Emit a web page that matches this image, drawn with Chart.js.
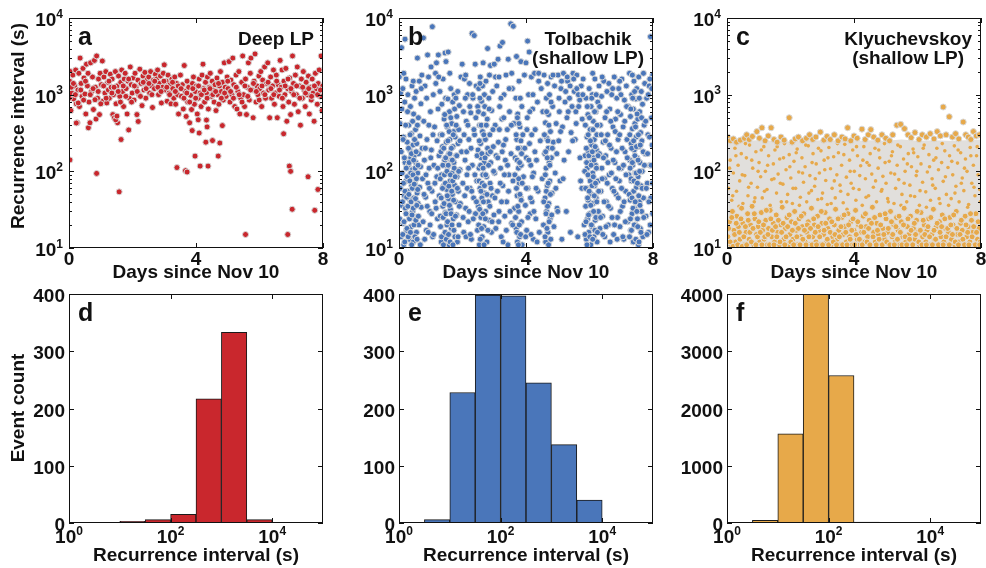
<!DOCTYPE html>
<html>
<head>
<meta charset="utf-8">
<script src="https://cdn.jsdelivr.net/npm/chart.js@4.4.0/dist/chart.umd.min.js"></script>
<style>
  html, body { margin: 0; padding: 0; background: #fff; }
  #fig { position: relative; width: 986px; height: 568px; }
  #fig canvas { position: absolute; left: 0; top: 0; }
</style>
</head>
<body>
<div id="fig">
  <canvas id="pa" width="986" height="568"></canvas>
  <canvas id="pb" width="986" height="568"></canvas>
  <canvas id="pc" width="986" height="568"></canvas>
  <canvas id="pd" width="986" height="568"></canvas>
  <canvas id="pe" width="986" height="568"></canvas>
  <canvas id="pf" width="986" height="568"></canvas>
</div>
<script>
// ---- data: [day since Nov 10, recurrence interval (s)] ----

const deepLP = [
  [0.02,1500],[0.04,2000],[0.06,620],[0.09,1050],[0.12,1800],[0.15,880],[0.18,1300],[0.21,2100],[0.23,760],
  [0.26,430],[0.28,1150],[0.31,1900],[0.33,700],[0.35,3000],[0.38,1400],[0.41,950],[0.44,2200],[0.47,1650],
  [0.5,1020],[0.53,560],[0.55,2500],[0.58,1300],[0.61,370],[0.63,800],[0.66,430],[0.68,2600],[0.71,1100],[0.74,1700],
  [0.77,640],[0.8,2800],[0.83,1250],[0.85,480],[0.87,3200],[0.9,900],[0.93,1600],[0.96,550],[0.98,1900],
  [1.02,1350],[1.05,2750],[1.07,820],[1.1,1700],[1.13,1050],[1.16,2000],[1.19,780],[1.22,1450],[1.24,1150],
  [1.27,900],[1.3,1850],[1.33,1250],[1.36,1600],[1.38,550],[1.4,1000],[1.43,500],[1.46,2000],[1.48,760],
  [1.51,1300],[1.53,430],[1.56,1750],[1.6,950],[1.63,1450],[1.66,2100],[1.69,1100],[1.72,700],[1.74,1600],
  [1.77,1900],[1.8,1200],[1.83,560],[1.86,1500],[1.9,900],[1.93,2300],[1.96,1350],[1.99,1050],
  [2.02,1650],[2.05,850],[2.08,1900],[2.11,1250],[2.14,550],[2.17,1550],[2.2,1000],[2.23,2150],
  [2.27,1400],[2.3,720],[2.33,1750],[2.36,1150],[2.39,1950],[2.42,900],[2.45,1550],[2.48,1300],
  [2.51,1700],[2.54,1050],[2.57,2000],[2.6,1300],[2.63,680],[2.66,1550],[2.69,1200],[2.72,1850],
  [2.76,1600],[2.79,2100],[2.82,1000],[2.85,1400],[2.88,1750],[2.91,780],[2.94,1250],[2.97,1900],
  [3.0,2450],[3.03,1150],[3.06,1500],[3.09,820],[3.12,1800],[3.15,1050],[3.18,1350],[3.21,760],[3.24,1600],
  [3.27,1200],[3.3,900],[3.33,1700],[3.36,750],[3.39,1400],[3.42,1000],[3.45,560],[3.48,1250],
  [3.51,1800],[3.54,950],[3.57,1350],[3.6,650],[3.63,2400],[3.66,1100],[3.69,520],[3.72,1500],[3.74,800],
  [3.77,1250],[3.8,430],[3.83,980],[3.86,640],[3.89,1400],[3.92,1700],[3.95,750],[3.98,1100],
  [4.01,1300],[4.04,560],[4.07,900],[4.1,1600],[4.13,1050],[4.16,700],[4.19,1800],[4.22,2500],[4.24,1200],
  [4.27,800],[4.3,1450],[4.33,1050],[4.36,1700],[4.39,650],[4.42,1250],[4.45,1900],[4.48,950],
  [4.51,1500],[4.54,1150],[4.57,800],[4.6,1350],[4.63,620],[4.66,1650],[4.69,1000],[4.72,750],[4.74,1300],
  [4.77,2000],[4.8,1100],[4.83,1450],[4.86,850],[4.89,2600],[4.92,1250],[4.95,950],[4.98,1700],
  [5.01,1200],[5.04,2700],[5.07,800],[5.1,1550],[5.13,1000],[5.16,3000],[5.19,1350],[5.22,700],
  [5.26,1800],[5.29,650],[5.32,1100],[5.35,2000],[5.38,560],[5.41,900],[5.44,1450],[5.47,3200],
  [5.5,1000],[5.53,700],[5.56,1600],[5.59,550],[5.62,1250],[5.65,2600],[5.68,850],[5.71,1900],[5.73,3000],
  [5.77,1150],[5.8,500],[5.83,1500],[5.86,3400],[5.89,800],[5.92,1300],[5.95,1000],[5.98,1750],
  [6.01,1200],[6.04,2000],[6.07,700],[6.1,1550],[6.13,1050],[6.16,2300],[6.19,900],[6.22,1400],
  [6.26,2600],[6.29,1150],[6.32,500],[6.35,1700],[6.38,900],[6.41,1300],[6.44,2100],[6.47,750],
  [6.5,1050],[6.53,1800],[6.56,500],[6.59,1350],[6.62,950],[6.65,2800],[6.68,1250],[6.71,2100],[6.74,700],
  [6.77,1500],[6.8,1000],[6.83,2200],[6.86,450],[6.89,1200],[6.92,800],[6.95,1650],[6.98,550],
  [7.01,1100],[7.04,3200],[7.07,1400],[7.1,750],[7.13,1800],[7.16,1000],[7.19,2300],[7.22,600],
  [7.26,1300],[7.29,400],[7.32,1600],[7.35,900],[7.38,2000],[7.41,1150],[7.44,700],[7.47,1450],
  [7.51,1000],[7.54,1750],[7.57,560],[7.6,1250],[7.63,850],[7.66,1600],[7.69,1050],[7.72,450],
  [7.76,1900],[7.79,1200],[7.82,750],[7.85,1400],[7.88,2100],[7.91,950],[7.94,3200],[7.97,620],[7.99,1300],
  [0.01,900],[0.07,1250],[0.14,1400],[0.2,1000],[0.29,780],[0.37,1150],[0.46,850],[0.52,1500],[0.6,1900],[0.67,1000],
  [0.76,1200],[0.82,860],[0.92,1100],[1.0,760],[1.09,1300],[1.17,900],[1.26,1500],[1.35,1050],[1.42,1250],[1.55,1100],
  [1.62,800],[1.71,1300],[1.79,950],[1.88,1600],[1.97,800],[2.06,1300],[2.15,1100],[2.25,950],[2.34,1450],[2.43,1200],
  [2.52,1400],[2.61,1000],[2.7,1500],[2.8,1250],[2.9,1100],[2.99,1500],[3.08,1250],[3.17,1000],[3.26,1450],[3.35,1100],
  [3.44,1300],[3.53,1200],[3.62,900],[3.71,1050],[3.8,800],[3.9,1200],[3.99,900],[4.08,1300],[4.17,1000],[4.26,1150],
  [4.35,900],[4.44,1200],[4.53,1000],[4.62,1100],[4.71,1400],[4.8,900],[4.9,1050],[5.0,1500],[5.09,1100],[5.18,900],
  [5.27,1250],[5.36,1000],[5.45,800],[5.54,1300],[5.63,950],[5.72,1150],[5.81,1400],[5.9,1100],[5.99,850],[6.08,1300],
  [6.17,1000],[6.27,1450],[6.36,1200],[6.45,1000],[6.54,1500],[6.63,1150],[6.72,900],[6.81,1300],[6.9,1600],[6.99,1200],
  [7.08,1000],[7.17,1300],[7.27,900],[7.36,1250],[7.45,1050],[7.55,1200],[7.64,950],[7.73,1300],[7.83,1000],[7.92,1150],
  // short intervals
  [0.03,141],[0.87,94],[1.58,54],[1.64,260],[1.47,470],[1.51,525],[1.88,347],[2.18,447],[3.4,112],
  [3.67,102],[3.72,98],[3.97,158],[4.13,117],[4.38,117],[4.7,158],[4.31,240],[4.52,252],[4.75,234],
  [4.83,395],[4.1,316],[3.88,340],[4.07,470],[4.33,466],[4.35,380],[5.56,15],[6.89,15],[7.03,32],
  [7.74,31],[7.84,58],[7.53,85],[6.94,117],[6.98,100],[6.76,309],[0.23,427]
];

const tolbachik = [
  [0.01,1700],[0.02,24],[0.03,420],[0.04,60],[0.05,1050],[0.06,14],[0.07,180],[0.08,36],[0.09,650],[0.1,95],
  [0.12,1200],[0.13,21],[0.14,280],[0.15,11],[0.17,48],[0.18,800],[0.19,130],[0.2,33],[0.22,1600],[0.23,75],[0.24,17],
  [0.26,240],[0.27,55],[0.28,1000],[0.29,120],[0.3,27],[0.31,400],[0.32,13],[0.33,85],[0.34,190],[0.35,42],[0.36,700],
  [0.37,150],[0.38,19],[0.39,310],[0.4,65],[0.41,1300],[0.42,105],[0.43,30],[0.44,220],[0.45,12],[0.46,560],[0.47,45],
  [0.48,160],[0.49,900],
  [0.5,70],[0.51,25],[0.52,350],[0.53,130],[0.54,1100],[0.55,16],[0.56,230],[0.57,52],[0.58,3000],[0.59,95],[0.6,38],
  [0.61,500],[0.62,170],[0.63,20],[0.64,1500],[0.65,62],[0.66,290],[0.67,11],[0.68,115],[0.69,760],[0.7,34],[0.72,1800],
  [0.73,200],[0.74,80],
  [0.76,22],[0.77,5500],[0.78,450],[0.8,140],[0.82,1300],[0.84,46],[0.86,17],[0.87,900],[0.88,260],[0.9,3300],[0.91,70],
  [0.93,1700],[0.95,110],[0.97,30],[0.99,600],
  [1.01,2300],[1.02,190],[1.04,55],[1.05,7700],[1.06,14],[1.08,1000],[1.1,120],[1.12,380],[1.14,40],[1.16,1400],
  [1.18,2600],[1.19,85],[1.21,24],[1.23,650],[1.24,3300],
  [1.26,160],[1.27,48],[1.29,1100],[1.3,26],[1.31,300],[1.33,12],[1.34,90],[1.35,750],[1.37,210],[1.38,35],[1.39,1600],
  [1.41,65],[1.42,480],[1.43,15],[1.44,140],[1.45,3500],[1.46,29],[1.47,900],[1.48,2700],[1.49,240],
  [1.5,58],[1.51,20],[1.52,380],[1.53,115],[1.54,880],[1.55,3600],[1.56,44],[1.57,170],[1.58,11],[1.59,600],[1.6,260],
  [1.61,75],[1.62,32],[1.63,1200],[1.64,140],[1.65,18],[1.66,420],[1.67,95],[1.68,50],[1.69,800],[1.7,210],[1.71,24],
  [1.72,330],[1.73,130],[1.74,1000],
  [1.75,66],[1.76,14],[1.77,280],[1.78,40],[1.79,900],[1.8,160],[1.81,27],[1.82,520],[1.83,85],[1.84,12],[1.85,1100],
  [1.86,230],[1.87,55],[1.88,350],[1.89,20],[1.9,720],[1.92,105],[1.93,38],[1.95,1700],[1.97,180],[1.99,2500],
  [2.01,70],[2.03,600],[2.04,16],[2.06,1600],[2.08,140],[2.1,33],[2.12,450],[2.14,90],[2.16,1000],[2.18,22],[2.2,260],
  [2.22,1400],[2.24,60],
  [2.26,580],[2.28,13],[2.3,6300],[2.31,120],[2.33,900],[2.35,45],[2.37,5900],[2.38,300],[2.4,2500],[2.41,28],[2.43,1300],
  [2.45,75],[2.47,17],[2.48,700],[2.49,190],
  [2.5,35],[2.51,1200],[2.52,110],[2.53,11],[2.54,400],[2.55,60],[2.56,1700],[2.57,230],[2.58,25],[2.59,150],[2.6,820],
  [2.61,45],[2.62,14],[2.63,330],[2.64,90],[2.65,2600],[2.66,560],[2.67,19],[2.68,130],[2.69,1000],[2.7,52],[2.72,260],
  [2.73,30],[2.74,1500],
  [2.76,85],[2.77,12],[2.78,480],[2.79,4000],[2.8,170],[2.81,40],[2.83,900],[2.84,23],[2.86,300],[2.87,70],[2.88,2400],
  [2.89,130],[2.91,16],[2.92,620],[2.94,48],[2.95,1100],[2.97,210],[2.99,27],
  [3.0,2500],[3.01,95],[3.03,400],[3.05,18],[3.06,160],[3.08,1300],[3.1,55],[3.12,2900],[3.13,240],[3.15,30],[3.17,700],
  [3.18,4300],[3.2,110],[3.22,14],[3.24,480],
  [3.26,4800],[3.27,65],[3.29,220],[3.31,1000],[3.33,26],[3.35,140],[3.37,1800],[3.39,40],[3.41,350],[3.43,11],
  [3.44,2900],[3.46,90],[3.48,600],
  [3.52,8400],[3.53,170],[3.55,21],[3.57,1200],[3.59,75],[3.6,7800],[3.62,420],[3.64,33],[3.66,150],[3.68,900],[3.69,18],
  [3.7,3150],[3.71,260],[3.72,48],[3.73,12],[3.74,560],
  [3.76,110],[3.77,30],[3.78,1500],[3.79,70],[3.8,14],[3.81,380],[3.82,200],[3.83,45],[3.84,2700],[3.85,120],[3.86,22],
  [3.87,700],[3.88,11],[3.9,300],[3.92,85],[3.95,1800],[3.98,36],
  [4.0,2600],[4.01,150],[4.02,17],[4.04,500],[4.05,5000],[4.06,60],[4.08,1000],[4.1,3600],[4.11,230],[4.13,28],[4.15,120],
  [4.17,1700],[4.19,40],[4.21,650],[4.23,13],[4.24,95],
  [4.27,1900],[4.29,350],[4.31,24],[4.33,140],[4.36,800],[4.38,55],[4.4,1900],[4.42,16],[4.45,250],[4.48,1200],
  [4.51,80],[4.53,600],[4.55,20],[4.57,1800],[4.59,170],[4.6,45],[4.61,430],[4.62,12],[4.63,110],[4.64,900],[4.65,30],
  [4.66,270],[4.67,65],[4.68,1400],[4.69,16],[4.7,200],[4.71,550],[4.72,38],[4.73,130],[4.74,1000],
  [4.75,75],[4.76,24],[4.77,330],[4.78,13],[4.79,1700],[4.8,150],[4.82,52],[4.84,700],[4.86,240],[4.88,19],[4.9,1300],
  [4.92,95],[4.95,420],[4.98,33],
  [5.01,1800],[5.03,250],[5.05,600],[5.07,75],[5.1,1200],[5.13,13],[5.15,380],[5.18,1900],[5.2,140],[5.23,800],
  [5.27,30],[5.29,500],[5.31,1500],[5.34,180],[5.37,900],[5.4,16],[5.42,320],[5.45,700],[5.48,1900],
  [5.52,1100],[5.55,260],[5.57,600],[5.6,1800],[5.63,14],[5.66,700],[5.69,850],[5.72,75],[5.74,1300],
  [5.77,480],[5.8,1600],[5.83,20],[5.86,160],[5.88,35],[5.89,900],[5.9,13],[5.91,60],[5.92,280],[5.93,110],[5.94,24],
  [5.95,550],[5.96,42],[5.97,180],[5.98,16],[5.99,1200],
  [6.0,85],[6.01,28],[6.02,350],[6.03,130],[6.04,11],[6.05,700],[6.06,50],[6.07,220],[6.08,19],[6.09,1000],[6.1,95],
  [6.11,38],[6.12,450],[6.13,150],[6.14,14],[6.15,260],[6.16,65],[6.17,1600],[6.18,23],[6.19,120],[6.2,600],[6.21,45],
  [6.22,190],[6.23,300],[6.24,12],
  [6.26,800],[6.27,75],[6.28,30],[6.3,1300],[6.31,170],[6.33,18],[6.34,400],[6.36,55],[6.38,950],[6.39,110],[6.41,26],
  [6.43,240],[6.45,1500],[6.47,80],[6.48,14],[6.49,500],
  [6.51,160],[6.53,40],[6.55,1100],[6.57,300],[6.59,20],[6.61,1400],[6.62,90],[6.64,650],[6.66,33],[6.68,200],[6.7,1000],
  [6.72,60],[6.74,380],
  [6.76,15],[6.78,1700],[6.8,130],[6.82,480],[6.84,50],[6.86,900],[6.88,25],[6.9,260],[6.92,1200],[6.94,75],[6.96,19],
  [6.98,550],
  [7.0,110],[7.02,1600],[7.04,35],[7.06,380],[7.08,13],[7.1,850],[7.12,180],[7.14,55],[7.16,1300],[7.18,260],[7.2,22],
  [7.22,700],[7.24,90],
  [7.26,1900],[7.27,140],[7.28,42],[7.29,520],[7.3,17],[7.31,230],[7.32,75],[7.33,1000],[7.34,28],[7.35,360],[7.36,120],
  [7.37,12],[7.38,650],[7.39,55],[7.4,1500],[7.41,190],[7.42,33],[7.43,420],[7.44,95],[7.45,20],[7.46,880],[7.47,280],
  [7.48,62],[7.49,1200],
  [7.5,150],[7.51,24],[7.52,480],[7.53,85],[7.54,11],[7.55,1700],[7.56,210],[7.57,40],[7.58,600],[7.59,130],[7.6,18],
  [7.61,320],[7.62,65],[7.63,1100],[7.64,30],[7.65,250],[7.66,100],[7.67,750],[7.68,14],[7.7,45],[7.72,400],[7.74,1400],
  [7.76,170],[7.78,26],[7.8,900],[7.82,70],[7.84,300],[7.86,16],[7.88,1300],[7.9,120],[7.92,5700],[7.93,45],[7.95,500],
  [7.97,220],[7.99,1800],
  [0.08,4100],[0.19,5300],
  // swarm bursts
  [0.11,40],[0.12,15],[0.13,260],[0.14,70],[0.16,22],[0.17,150],[0.18,12],[0.19,55],[0.21,400],[0.22,28],[0.23,110],
  [0.24,46],[0.25,18],[0.26,85],[0.27,600],[0.28,35],[0.29,14],[0.3,200],[0.31,50],[0.32,130],[0.33,24],[0.34,75],
  [0.35,300],[0.36,16],[0.37,95],[0.38,40],[0.39,170],[0.4,11],[0.41,27],[0.42,60],[0.43,450],[0.44,90],[0.45,33],
  [0.46,140],[0.47,20],[0.48,68],[0.49,260],[0.5,14],[0.51,110],[0.52,44],[0.53,23],[0.54,180],[0.55,80],[0.56,36],
  [0.57,13],[0.58,400],[0.59,58],[0.6,120],[0.61,26],
  [0.79,50],[0.81,13],[0.83,200],[0.85,90],[0.89,35],[0.92,16],[0.94,400],[0.96,60],[0.98,20],[1.0,150],[1.03,28],
  [1.07,300],[1.09,15],[1.13,70],[1.15,1900],[1.17,33],[1.2,250],[1.22,110],
  [1.3,80],[1.31,19],[1.32,180],[1.33,45],[1.34,14],[1.36,300],[1.37,60],[1.38,120],[1.39,25],[1.4,11],[1.41,200],
  [1.42,38],[1.43,90],[1.44,550],[1.45,16],[1.46,70],[1.47,150],[1.48,28],[1.49,13],[1.5,400],[1.51,100],[1.52,48],
  [1.53,22],[1.54,250],[1.55,120],[1.56,15],[1.57,64],[1.58,330],[1.59,36],[1.6,170],[1.61,12],[1.62,90],[1.63,500],
  [1.64,28],[1.65,200],[1.66,55],[1.67,20],[1.68,140],[1.69,75],[1.7,11],[1.71,300],[1.72,42],[1.73,17],[1.74,110],
  [1.75,650],[1.77,85],[1.78,26],[1.8,400],[1.82,160],[1.84,60],[1.86,14],[1.88,100],[1.9,35],[1.92,250],
  [2.02,25],[2.05,300],[2.07,48],[2.09,900],[2.11,14],[2.13,180],[2.15,60],[2.17,400],[2.19,110],[2.21,30],[2.23,700],
  [2.25,15],[2.27,200],[2.29,55],[2.32,1000],[2.34,24],[2.36,350],[2.39,90],[2.42,500],[2.44,40],[2.46,160],
  [2.5,600],[2.51,20],[2.52,75],[2.53,250],[2.54,32],[2.55,900],[2.56,13],[2.57,120],[2.58,55],[2.59,400],[2.6,18],
  [2.61,170],[2.62,70],[2.63,1300],[2.64,28],[2.65,110],[2.66,40],[2.67,300],[2.68,11],[2.69,65],[2.7,700],[2.71,150],
  [2.72,24],[2.73,90],[2.75,400],[2.77,50],[2.79,200],[2.8,17],[2.82,120],[2.84,650],[2.86,35],[2.88,180],[2.9,60],
  [2.93,22],[2.96,350],[2.98,100],[3.02,45],[3.04,1700],
  [3.11,150],[3.14,22],[3.16,350],[3.19,70],[3.21,900],[3.23,40],[3.25,180],[3.28,12],[3.3,500],[3.32,90],[3.36,260],
  [3.38,17],[3.42,120],[3.45,55],[3.47,1200],[3.5,30],[3.54,400],[3.58,20],
  [3.65,90],[3.67,25],[3.69,300],[3.7,60],[3.71,16],[3.72,140],[3.73,500],[3.74,35],[3.75,200],[3.76,11],[3.77,80],
  [3.78,420],[3.79,20],[3.8,130],[3.81,50],[3.82,900],[3.83,15],[3.84,250],[3.85,42],[3.86,170],[3.88,70],
  [3.96,200],[3.99,14],[4.01,60],[4.03,350],[4.06,25],[4.09,140],[4.12,600],[4.14,45],[4.16,15],[4.18,300],[4.2,85],
  [4.22,1000],[4.25,30],[4.28,180],[4.32,60],[4.35,12],
  [4.56,40],[4.58,300],[4.6,14],[4.61,90],[4.62,180],[4.63,28],[4.64,55],[4.65,600],[4.66,18],[4.67,150],[4.68,35],
  [4.69,250],[4.7,70],[4.71,11],[4.72,400],[4.73,22],[4.75,120],[4.77,50],[4.79,800],[4.81,27],[4.83,200],
  [4.94,60],[4.97,170],[5.0,30],[5.04,900],[5.09,330],[5.12,1500],[5.17,80],[5.25,1100],[5.33,600],[5.39,1300],
  [5.47,250],[5.5,1600],[5.58,420],[5.65,1000],[5.7,150],[5.76,60],[5.79,1000],
  [5.85,100],[5.86,15],[5.87,400],[5.88,60],[5.89,22],[5.9,200],[5.91,130],[5.92,11],[5.93,700],[5.94,45],[5.95,90],
  [5.96,300],[5.97,27],[5.98,160],[5.99,55],[6.0,500],[6.01,14],[6.02,75],[6.03,250],[6.04,36],[6.05,120],[6.06,20],
  [6.07,900],[6.08,65],[6.09,180],[6.1,13],[6.11,350],[6.12,85],[6.13,30],[6.14,140],[6.15,48],[6.16,600],[6.17,17],
  [6.18,210],[6.19,70],[6.2,25],[6.21,1000],[6.22,110],[6.23,40],[6.24,400],[6.25,16],[6.27,160],[6.29,55],[6.32,700],
  [6.35,25],[6.37,300],[6.4,80],[6.42,15],[6.44,150],[6.46,40],[6.5,250],[6.52,19],[6.54,600],[6.56,70],[6.58,130],
  [6.6,35],[6.63,220],[6.65,12],[6.67,450],[6.69,95],[6.71,25],[6.73,1200],[6.75,140],[6.77,55],[6.79,20],[6.81,330],
  [6.83,80],[6.85,180],[6.87,13],[6.89,600],[6.91,45],[6.93,110],[6.95,300],[6.97,30],[6.99,1000],[7.01,60],[7.03,200],
  [7.05,14],[7.07,120],[7.09,40],[7.11,450],[7.13,22],[7.15,90],[7.17,700],[7.19,150],
  [7.25,50],[7.26,14],[7.27,300],[7.28,110],[7.29,24],[7.3,650],[7.31,80],[7.32,17],[7.33,200],[7.34,45],[7.35,130],
  [7.36,900],[7.37,33],[7.38,12],[7.39,250],[7.4,75],[7.41,20],[7.42,1100],[7.43,160],[7.44,40],[7.45,380],[7.46,13],
  [7.47,95],[7.48,210],[7.49,30],[7.5,560],[7.51,70],[7.52,19],[7.53,140],[7.54,300],[7.55,48],[7.56,12],[7.57,900],
  [7.58,100],[7.59,36],[7.6,220],[7.62,16],[7.64,500],[7.66,60],[7.69,180],[7.71,25],[7.73,120],
  [7.77,450],[7.79,60],[7.81,15],[7.83,170],[7.85,1000],[7.87,40],[7.89,280],[7.91,20],[7.94,120],[7.96,1200],[7.98,70],
  [7.99,28],
  [0.15,1900],[0.45,1500],[0.7,1200],[1.25,1700],[1.6,1900],[2.1,1800],[2.55,1400],[2.85,1800],[3.15,1700],[3.55,1900],
  [4.4,1500],[4.85,1800],[5.3,1700],[5.6,1200],[6.1,1900],[6.4,1700],[6.95,1500],[7.35,1800],[7.7,1900],[7.9,1600]
];

// Klyuchevskoy: the cloud is saturated between 10 s and its upper edge
const kluCloudDays = [0, 0.5, 1, 1.5, 2, 2.5, 3, 3.5, 4, 4.5, 5, 5.5, 6, 6.5, 7, 7.5, 8];
const kluCloudTop = [265, 250, 255, 250, 245, 250, 255, 250, 250, 255, 250, 260, 250, 255, 250, 255, 260];

const kluInner = [
  [0.05,60],[0.1,140],[0.15,42],[0.2,95],[0.25,200],[0.3,55],[0.35,120],[0.4,75],[0.45,170],[0.5,38],[0.56,88],
  [0.61,150],[0.66,48],[0.71,220],[0.76,70],[0.81,110],[0.86,40],[0.91,180],[0.96,62],[1.01,130],[1.06,85],[1.11,45],
  [1.16,210],[1.21,100],[1.26,58],[1.31,160],[1.36,36],[1.41,78],[1.46,125],[1.51,190],[1.56,52],[1.61,92],[1.66,145],
  [1.71,40],[1.76,68],[1.81,230],[1.86,105],[1.91,50],[1.96,165],[2.01,82],[2.06,38],[2.11,135],[2.16,60],[2.21,195],
  [2.26,98],[2.31,46],[2.36,150],[2.41,72],[2.46,115],[2.51,40],[2.56,215],[2.61,88],[2.66,56],[2.71,170],[2.76,64],
  [2.81,125],[2.86,43],[2.91,95],[2.96,185],[3.01,52],[3.06,140],[3.11,76],[3.16,37],[3.21,205],[3.26,108],[3.31,60],
  [3.36,155],[3.41,45],[3.46,90],[3.51,175],[3.56,66],[3.61,120],[3.66,39],[3.71,225],[3.76,84],[3.81,50],[3.86,140],
  [3.91,70],[3.96,190],[4.01,100],[4.06,42],[4.11,160],[4.16,58],[4.21,118],[4.26,36],[4.31,210],[4.36,80],[4.41,130],
  [4.46,48],[4.51,170],[4.56,92],[4.61,62],[4.66,200],[4.71,40],[4.76,110],[4.81,150],[4.86,55],[4.91,86],[4.96,230],
  [5.01,70],[5.06,44],[5.11,135],[5.16,95],[5.21,180],[5.26,38],[5.31,60],[5.36,120],[5.41,78],[5.46,210],[5.51,50],
  [5.56,145],[5.61,100],[5.66,40],[5.71,170],[5.76,66],[5.81,115],[5.86,195],[5.91,47],[5.96,88],[6.01,155],[6.06,36],
  [6.11,125],[6.16,72],[6.21,220],[6.26,54],[6.31,98],[6.36,165],[6.41,42],[6.46,80],[6.51,140],[6.56,60],[6.61,200],
  [6.66,105],[6.71,38],[6.76,130],[6.81,74],[6.86,185],[6.91,50],[6.96,112],[7.01,160],[7.06,44],[7.11,90],[7.16,215],
  [7.21,64],[7.26,128],[7.31,40],[7.36,175],[7.41,82],[7.46,56],[7.51,145],[7.56,100],[7.61,37],[7.66,205],[7.71,70],
  [7.76,120],[7.81,48],[7.86,160],[7.91,90],[7.96,58],
  [0.08,110],[0.18,48],[0.28,160],[0.38,35],[0.48,90],[0.58,230],[0.68,62],[0.78,140],[0.88,45],[0.98,100],[1.08,190],
  [1.18,55],[1.28,120],[1.38,33],[1.48,80],[1.58,210],[1.68,70],[1.78,150],[1.88,40],[1.98,115],[2.08,60],[2.18,175],
  [2.28,36],[2.38,95],[2.48,220],[2.58,52],[2.68,130],[2.78,80],[2.88,200],[2.98,44],[3.08,105],[3.18,150],[3.28,38],
  [3.38,75],[3.48,230],[3.58,55],[3.68,165],[3.78,32],[3.88,100],[3.98,60],[4.08,210],[4.18,88],[4.28,140],[4.38,46],
  [4.48,120],[4.58,34],[4.68,75],[4.78,190],[4.88,58],[4.98,130],[5.08,40],[5.18,160],[5.28,92],[5.38,220],[5.48,36],
  [5.58,70],[5.68,125],[5.78,48],[5.88,175],[5.98,100],[6.08,56],[6.18,200],[6.28,34],[6.38,115],[6.48,66],[6.58,150],
  [6.68,44],[6.78,230],[6.88,85],[6.98,36],[7.08,135],[7.18,52],[7.28,190],[7.38,70],[7.48,110],[7.58,34],[7.68,160],
  [7.78,62],[7.88,210],[7.98,40]
];

const kluFloor = [
  [0.03,14],[0.08,22],[0.12,11],[0.17,30],[0.22,17],[0.27,12],[0.31,26],[0.36,19],[0.41,13],[0.46,33],[0.5,21],[0.55,11],
  [0.6,16],[0.65,28],[0.7,13],[0.74,20],[0.79,35],[0.84,11],[0.88,24],[0.93,15],[0.98,19],[1.03,12],[1.08,29],[1.12,17],
  [1.17,13],[1.22,23],[1.27,11],[1.31,18],[1.36,31],[1.41,14],[1.46,21],[1.5,12],[1.55,27],[1.6,16],[1.65,11],[1.7,20],
  [1.74,34],[1.79,13],[1.84,18],[1.89,25],[1.94,11],[1.98,15],[2.03,22],[2.08,13],[2.13,30],[2.18,17],[2.22,11],[2.27,24],
  [2.32,14],[2.37,19],[2.42,28],[2.46,12],[2.51,16],[2.56,22],[2.61,11],[2.66,33],[2.7,14],[2.75,20],[2.8,12],[2.85,26],
  [2.9,17],[2.94,11],[2.99,21],[3.04,15],[3.09,29],[3.14,12],[3.18,18],[3.23,24],[3.28,11],[3.33,14],[3.38,20],[3.42,32],
  [3.47,13],[3.52,17],[3.57,11],[3.62,25],[3.66,15],[3.71,19],[3.76,12],[3.81,28],[3.86,14],[3.9,22],[3.95,11],[4.0,17],
  [4.05,31],[4.1,13],[4.14,20],[4.19,11],[4.24,16],[4.29,26],[4.34,12],[4.38,19],[4.43,14],[4.48,23],[4.53,11],[4.58,34],
  [4.62,16],[4.67,12],[4.72,21],[4.77,15],[4.82,27],[4.86,11],[4.91,18],[4.96,13],[5.01,24],[5.06,16],[5.1,11],[5.15,30],
  [5.2,14],[5.25,20],[5.3,12],[5.34,25],[5.39,17],[5.44,11],[5.49,22],[5.54,14],[5.58,33],[5.63,12],[5.68,19],[5.73,15],
  [5.78,26],[5.82,11],[5.87,18],[5.92,13],[5.97,23],[6.02,16],[6.06,11],[6.11,29],[6.16,14],[6.21,20],[6.26,12],[6.3,17],
  [6.35,24],[6.4,11],[6.45,15],[6.5,32],[6.54,13],[6.59,19],[6.64,11],[6.69,22],[6.74,14],[6.78,27],[6.83,12],[6.88,18],
  [6.93,11],[6.98,16],[7.02,25],[7.07,13],[7.12,20],[7.17,11],[7.22,30],[7.26,15],[7.31,12],[7.36,21],[7.41,17],[7.46,11],
  [7.5,26],[7.55,14],[7.6,19],[7.65,12],[7.7,23],[7.74,16],[7.79,11],[7.84,28],[7.89,13],[7.94,18],[7.98,12],
  [0.05,18],[0.1,12],[0.15,25],[0.19,10.5],[0.24,15],[0.29,21],[0.34,11],[0.39,16],[0.44,24],[0.48,10.5],[0.53,14],
  [0.58,19],[0.62,11],[0.67,23],[0.72,16],[0.77,12],[0.82,18],[0.86,28],[0.91,11],[0.96,14],[1.0,22],[1.05,16],[1.1,11],
  [1.15,20],[1.19,14],[1.24,31],[1.29,15],[1.34,11],[1.38,24],[1.43,17],[1.48,11],[1.53,19],[1.57,14],[1.62,23],[1.67,12],
  [1.72,16],[1.77,21],[1.82,11],[1.86,14],[1.91,19],[1.96,27],[2.01,12],[2.06,17],[2.1,11],[2.15,21],[2.2,14],[2.25,18],
  [2.3,11],[2.34,26],[2.39,13],[2.44,17],[2.49,11],[2.53,20],[2.58,14],[2.63,18],[2.68,11],[2.73,24],[2.78,16],[2.82,11],
  [2.87,19],[2.92,14],[2.97,30],[3.01,11],[3.06,17],[3.11,21],[3.16,13],[3.2,11],[3.25,16],[3.3,22],[3.35,12],[3.4,15],
  [3.45,11],[3.5,24],[3.54,14],[3.59,19],[3.64,11],[3.69,27],[3.74,16],[3.78,11],[3.83,20],[3.88,13],[3.93,17],[3.97,24],
  [4.02,11],[4.07,15],[4.12,22],[4.17,13],[4.22,19],[4.26,11],[4.31,16],[4.36,28],[4.41,12],[4.46,18],[4.5,11],[4.55,21],
  [4.6,14],[4.65,25],[4.7,11],[4.74,17],[4.79,13],[4.84,20],[4.89,11],[4.94,15],[4.98,28],[5.03,12],[5.08,18],[5.13,11],
  [5.18,22],[5.22,15],[5.27,11],[5.32,19],[5.37,13],[5.42,26],[5.46,16],[5.51,11],[5.56,20],[5.61,14],[5.66,11],[5.7,24],
  [5.75,13],[5.8,17],[5.85,11],[5.9,21],[5.94,15],[5.99,30],[6.04,12],[6.09,17],[6.14,11],[6.18,23],[6.23,15],[6.28,11],
  [6.33,19],[6.38,14],[6.42,25],[6.47,11],[6.52,17],[6.57,13],[6.62,21],[6.66,11],[6.71,16],[6.76,19],[6.81,11],[6.86,24],
  [6.9,14],[6.95,18],[7.0,11],[7.05,20],[7.1,15],[7.14,27],[7.19,12],[7.24,18],[7.29,11],[7.34,15],[7.38,23],[7.43,13],
  [7.48,11],[7.53,20],[7.58,16],[7.62,11],[7.67,28],[7.72,14],[7.77,19],[7.82,11],[7.86,16],[7.91,22],[7.96,11]
];

const kluEdge = [
  [0.02,280],[0.1,250],[0.2,265],[0.3,240],[0.42,255],[0.55,270],[0.62,300],[0.7,260],[0.8,285],[0.94,330],[1.02,270],
  [1.1,370],[1.2,250],[1.3,290],[1.39,370],[1.48,260],[1.58,240],[1.7,280],[1.8,255],[1.96,500],[2.05,240],[2.15,265],
  [2.25,280],[2.38,250],[2.5,270],[2.6,300],[2.7,260],[2.8,280],[2.94,325],[3.05,255],[3.15,285],[3.25,260],[3.38,300],
  [3.5,250],[3.62,280],[3.72,265],[3.8,370],[3.9,250],[4.0,290],[4.1,270],[4.25,355],[4.35,260],[4.45,300],[4.53,350],
  [4.62,280],[4.75,255],[4.88,300],[5.0,270],[5.12,250],[5.22,300],[5.35,400],[5.47,410],[5.59,360],[5.7,300],[5.8,275],
  [5.92,320],[6.05,260],[6.15,300],[6.28,280],[6.4,310],[6.52,265],[6.62,330],[6.72,290],[6.81,690],[6.9,300],[7.0,515],
  [7.1,280],[7.2,310],[7.3,265],[7.44,440],[7.52,300],[7.6,280],[7.68,260],[7.76,330],[7.85,290],[7.95,300]
];

// histograms: half-decade bins, centres in log10(seconds)
const binCentres = [0.75, 1.25, 1.75, 2.25, 2.75, 3.25, 3.75, 4.25];
const deepCounts = [0, 3, 6, 15, 217, 333, 6, 0];
const tolCounts = [6, 228, 398, 397, 245, 137, 40, 1];
const kluCounts = [47, 1557, 4000, 2577, 17, 0, 0, 0];

const dayTicks = [0, 4, 8];
const histTicks = [0, 100, 200, 300, 400];
const histTicksF = [0, 1000, 2000, 3000, 4000];

// ---- styling ----
const W = 986, H = 568;
const FONT = '"Liberation Sans", Arial, Helvetica, sans-serif';
const INK = '#111';
const RED = '#c9272d', BLUE = '#4a76ba', ORANGE = '#e7a94a';
const EDGE = '#d8d8d8', CLOUD = '#e1dfdc';

const boxes = {
  a: { left: 69, top: 18, right: 323, bottom: 248 },
  b: { left: 399, top: 18, right: 653, bottom: 248 },
  c: { left: 727, top: 18, right: 981, bottom: 248 },
  d: { left: 69, top: 294, right: 323, bottom: 523 },
  e: { left: 399, top: 294, right: 653, bottom: 523 },
  f: { left: 727, top: 294, right: 981, bottom: 523 }
};

// minor ticks for a log axis, 2..9 within each decade
function logMinor(lo, hi) {
  const out = [];
  for (let d = lo; d < hi; d *= 10) for (let k = 2; k <= 9; k++) out.push(d * k);
  return out;
}

// "10" with a raised exponent, or plain text when exp is undefined
function drawLabel(ctx, x, base, text, exp, align) {
  ctx.font = `bold 19px ${FONT}`;
  const wb = ctx.measureText(text).width;
  let we = 0;
  if (exp !== undefined) {
    ctx.font = `bold 12px ${FONT}`;
    we = ctx.measureText(String(exp)).width;
  }
  const x0 = align === 'right' ? x - wb - we : x - (wb + we) / 2;
  ctx.textAlign = 'left';
  ctx.font = `bold 19px ${FONT}`;
  ctx.fillText(text, x0, base);
  if (exp !== undefined) {
    ctx.font = `bold 12px ${FONT}`;
    ctx.fillText(String(exp), x0 + wb, base - 8.5);
  }
}

function makeFrame(spec) {
  return {
    id: 'frame',
    afterDraw(chart) {
      const ctx = chart.ctx, a = chart.chartArea;
      const xs = chart.scales.x, ys = chart.scales.y;
      ctx.save();
      ctx.strokeStyle = INK;
      ctx.fillStyle = INK;
      ctx.lineWidth = 1;

      const seg = (x1, y1, x2, y2) => { ctx.beginPath(); ctx.moveTo(x1, y1); ctx.lineTo(x2, y2); ctx.stroke(); };
      const xTick = (v, len) => {
        const px = Math.round(xs.getPixelForValue(v)) + 0.5;
        seg(px, a.bottom, px, a.bottom - len);
        seg(px, a.top, px, a.top + len);
      };
      const yTick = (v, len) => {
        const py = Math.round(ys.getPixelForValue(v)) + 0.5;
        seg(a.left, py, a.left + len, py);
        seg(a.right, py, a.right - len, py);
      };
      spec.xMajor.forEach(v => xTick(v, 5));
      spec.yMajor.forEach(v => yTick(v, 5));
      (spec.yMinor || []).forEach(v => yTick(v, 3));

      ctx.strokeRect(a.left + 0.5, a.top + 0.5, a.right - a.left - 1, a.bottom - a.top - 1);

      ctx.textBaseline = 'alphabetic';
      spec.xText.forEach(([v, t, e]) => drawLabel(ctx, xs.getPixelForValue(v), a.bottom + spec.xTextDy, t, e, 'center'));
      spec.yText.forEach(([v, t, e]) => drawLabel(ctx, a.left - spec.yGap, ys.getPixelForValue(v) + 8, t, e, 'right'));

      ctx.font = `bold 19px ${FONT}`;
      ctx.textAlign = 'center';
      ctx.fillText(spec.xTitle, (a.left + a.right) / 2, a.bottom + spec.xTitleDy);
      if (spec.yTitle) {
        ctx.save();
        ctx.translate(24, spec.yTitleY);
        ctx.rotate(-Math.PI / 2);
        ctx.fillText(spec.yTitle, 0, 0);
        ctx.restore();
      }

      ctx.font = `bold 25px ${FONT}`;
      ctx.textAlign = 'left';
      ctx.fillText(spec.letter, a.left + 9, a.top + 27);

      if (spec.name) {
        ctx.font = `bold 19px ${FONT}`;
        const w = Math.max(...spec.name.map(s => ctx.measureText(s).width));
        const cx = a.right - 9 - w / 2;
        ctx.textAlign = 'center';
        spec.name.forEach((s, i) => ctx.fillText(s, cx, a.top + 27 + i * 19));
      }
      ctx.restore();
    }
  };
}

function padding(box) {
  return { left: box.left, top: box.top, right: W - box.right, bottom: H - box.bottom };
}

function dots(points, color, radius, edge, order) {
  return {
    type: 'scatter',
    data: points.map(([x, y]) => ({ x, y })),
    backgroundColor: color,
    borderColor: edge || color,
    borderWidth: edge ? 1 : 0,
    pointRadius: radius,
    pointHoverRadius: radius,
    order: order || 0
  };
}

const scatterFrame = (letter, name, yTitle) => ({
  letter, name,
  xMajor: dayTicks, yMajor: [10, 100, 1000, 10000], yMinor: logMinor(10, 10000),
  xText: dayTicks.map(d => [d, String(d)]),
  yText: [[10, '10', 1], [100, '10', 2], [1000, '10', 3], [10000, '10', 4]],
  xTextDy: 17, yGap: 6,
  xTitle: 'Days since Nov 10', xTitleDy: 30,
  yTitle, yTitleY: 126
});

function scatterPanel(id, box, datasets, frame) {
  return new Chart(document.getElementById(id), {
    type: 'scatter',
    data: { datasets },
    options: {
      responsive: false, animation: false, events: [],
      layout: { padding: padding(box) },
      scales: {
        x: { type: 'linear', min: 0, max: 8, display: false },
        y: { type: 'logarithmic', min: 10, max: 10000, display: false }
      },
      plugins: { legend: { display: false }, tooltip: { enabled: false } }
    },
    plugins: [makeFrame(frame)]
  });
}

function histPanel(id, box, counts, color, yMax, yTicks, letter, yTitle) {
  return new Chart(document.getElementById(id), {
    type: 'bar',
    data: {
      datasets: [{
        data: binCentres.map((c, i) => ({ x: c, y: counts[i] })),
        backgroundColor: color,
        borderColor: '#1a1a1a',
        borderWidth: 1,
        borderSkipped: false,
        barPercentage: 1,
        categoryPercentage: 1
      }]
    },
    options: {
      responsive: false, animation: false, events: [],
      layout: { padding: padding(box) },
      scales: {
        x: { type: 'linear', min: 0, max: 5, offset: false, display: false },
        y: { type: 'linear', min: 0, max: yMax, display: false }
      },
      plugins: { legend: { display: false }, tooltip: { enabled: false } }
    },
    plugins: [makeFrame({
      letter,
      xMajor: [0, 2, 4], yMajor: yTicks,
      xText: [[0, '10', 0], [2, '10', 2], [4, '10', 4]],
      yText: yTicks.map(v => [v, String(v)]),
      xTextDy: 20, yGap: 4,
      xTitle: 'Recurrence interval (s)', xTitleDy: 38,
      yTitle, yTitleY: 408
    })]
  });
}

// ---- top row: recurrence interval against time ----
scatterPanel('pa', boxes.a, [dots(deepLP, RED, 3, EDGE)],
  scatterFrame('a', ['Deep LP'], 'Recurrence interval (s)'));

scatterPanel('pb', boxes.b, [dots(tolbachik, BLUE, 3, EDGE)],
  scatterFrame('b', ['Tolbachik', '(shallow LP)']));

scatterPanel('pc', boxes.c, [
  dots(kluEdge, ORANGE, 3, EDGE, 0),
  dots(kluFloor, ORANGE, 3, CLOUD, 1),
  dots(kluInner, ORANGE, 1.8, null, 2),
  {
    type: 'line',
    data: kluCloudDays.map((d, i) => ({ x: d, y: kluCloudTop[i] })),
    borderWidth: 0, pointRadius: 0, tension: 0,
    backgroundColor: CLOUD, fill: 'start', order: 3
  }
], scatterFrame('c', ['Klyuchevskoy', '(shallow LP)']));

// ---- bottom row: histograms ----
histPanel('pd', boxes.d, deepCounts, RED, 400, histTicks, 'd', 'Event count');
histPanel('pe', boxes.e, tolCounts, BLUE, 400, histTicks, 'e');
histPanel('pf', boxes.f, kluCounts, ORANGE, 4000, histTicksF, 'f');
</script>
</body>
</html>
